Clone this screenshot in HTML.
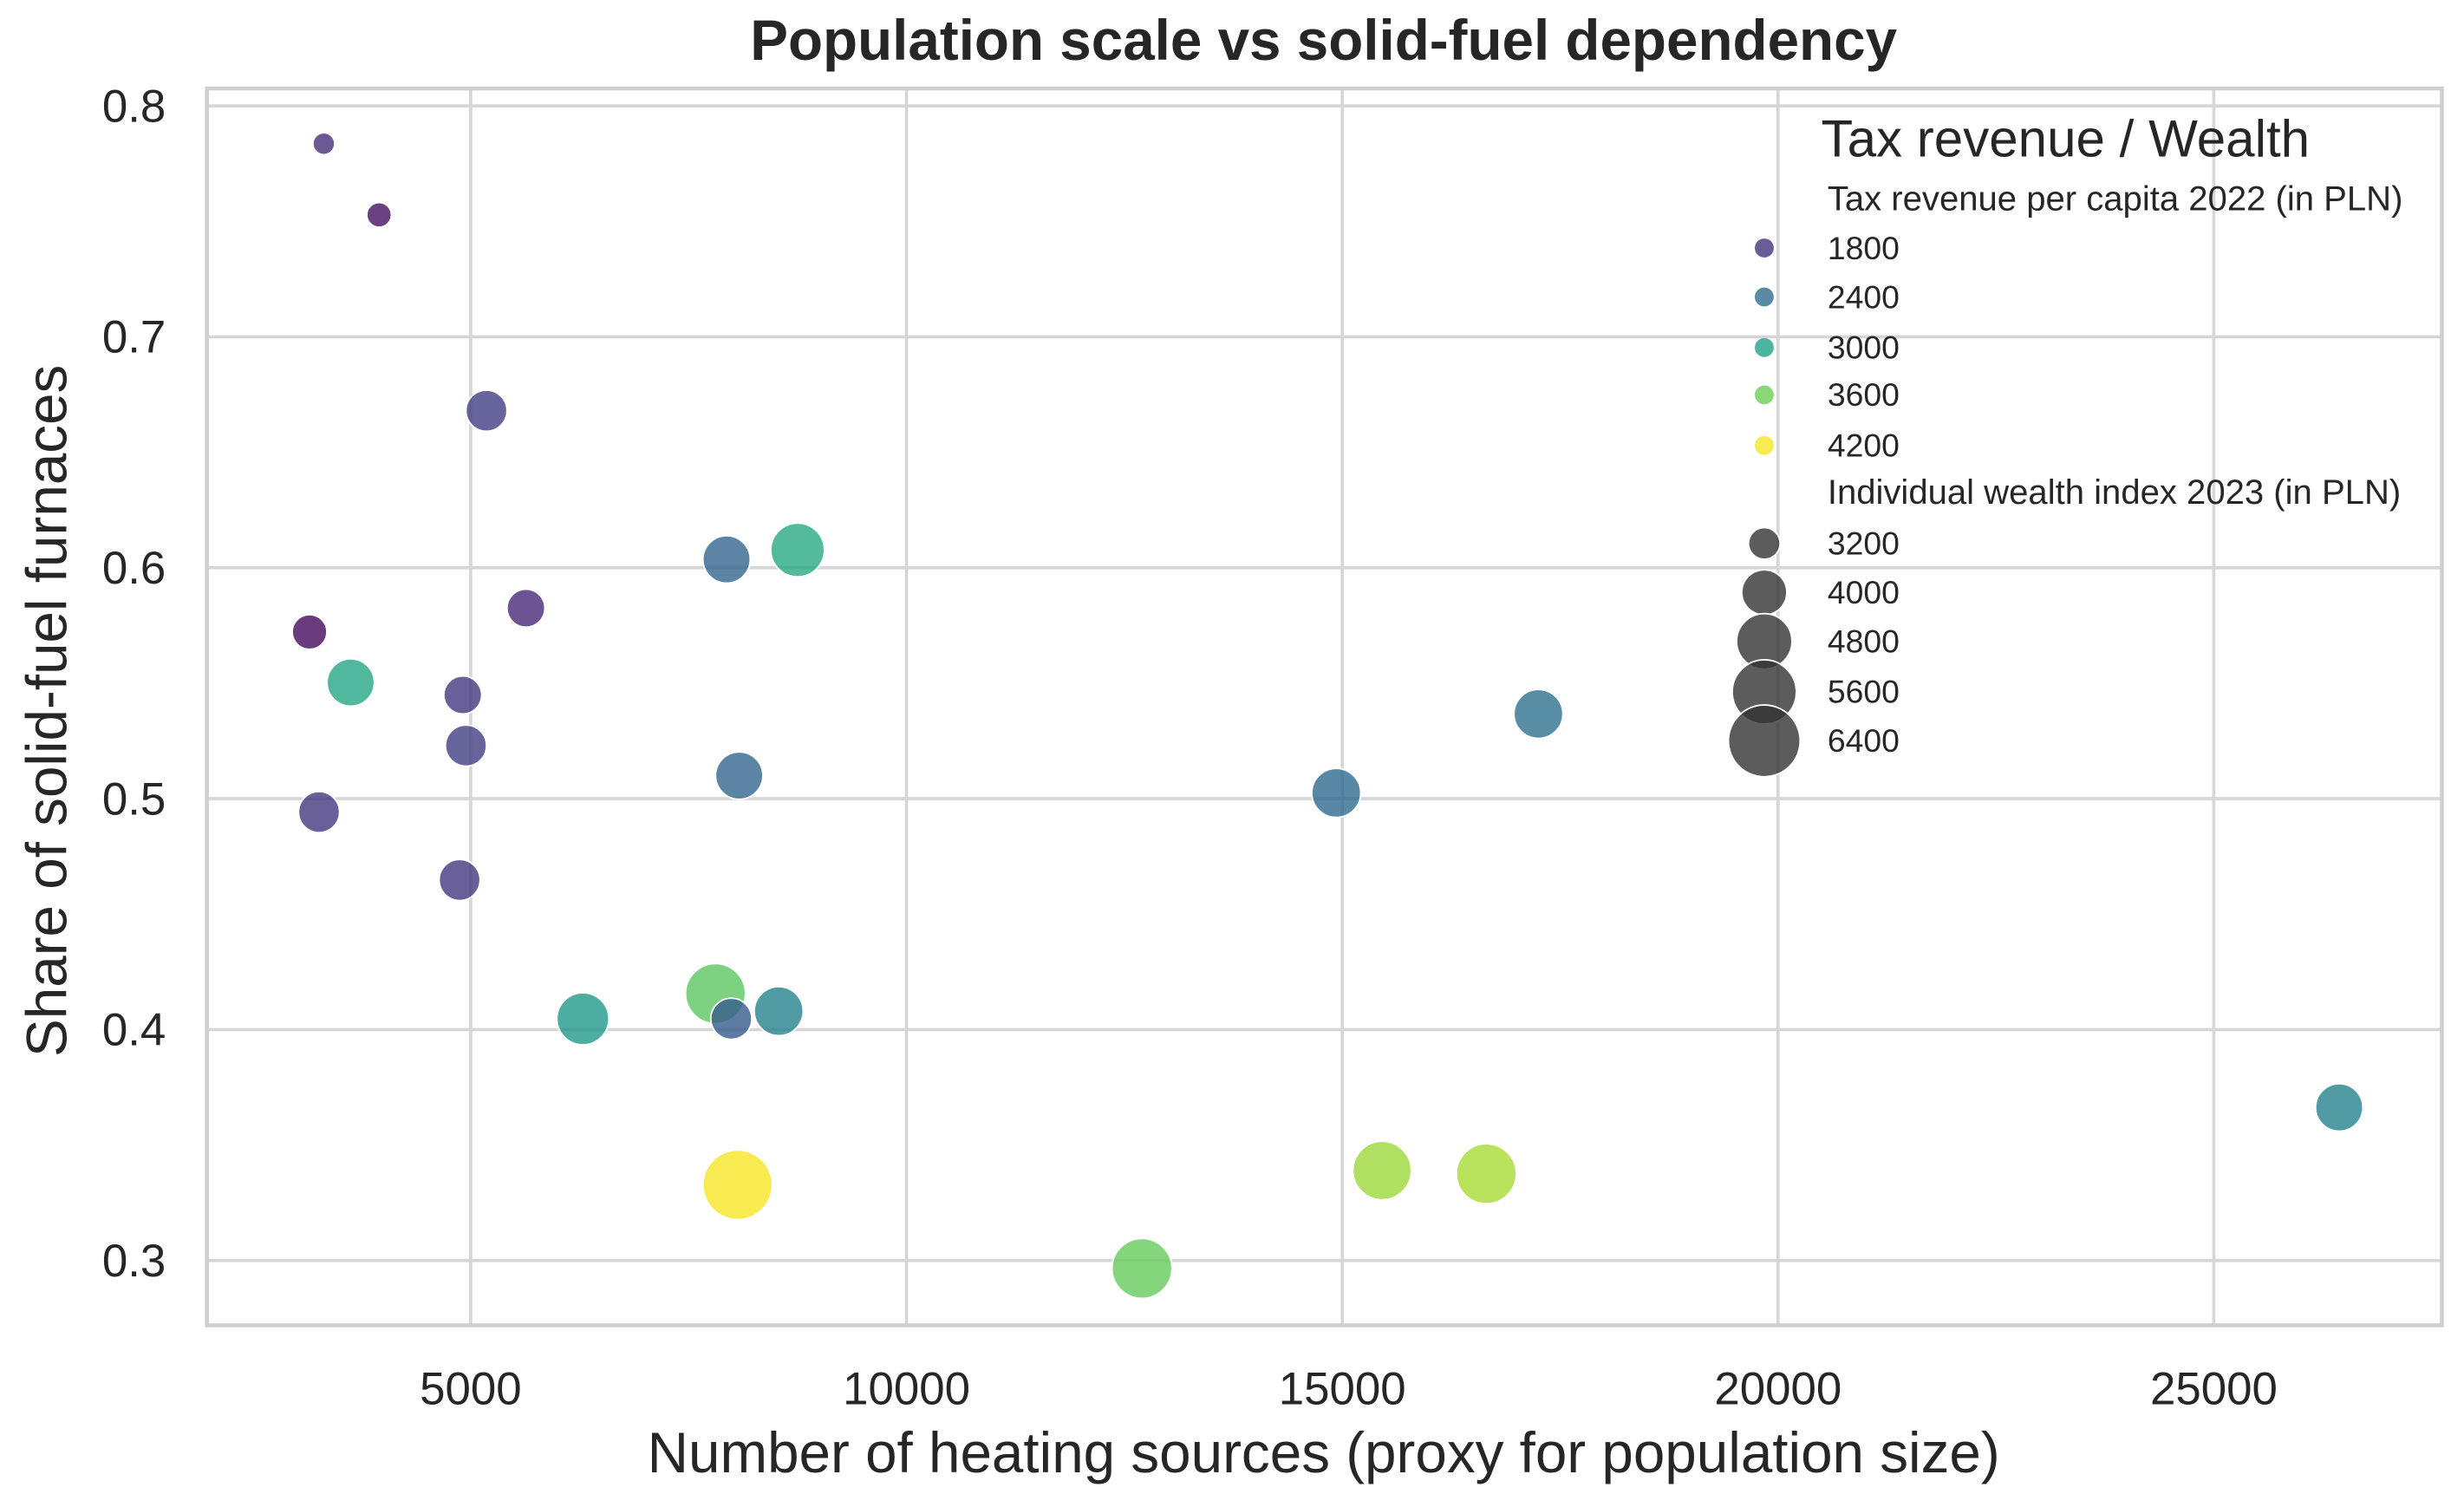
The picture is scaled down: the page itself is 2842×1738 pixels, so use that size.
<!DOCTYPE html>
<html><head><meta charset="utf-8"><style>
html,body{margin:0;padding:0;background:#fff;}
svg{display:block;font-family:"Liberation Sans",Arial,sans-serif;}
</style></head><body>
<svg id="chart" width="2842" height="1738" viewBox="0 0 1560 954" xmlns="http://www.w3.org/2000/svg">
<rect width="1560" height="954" fill="#fff"/>
<g id="grid"></g>
<rect x="131" y="56" width="1415" height="783" fill="none" stroke="#cfcfcf" stroke-width="2.5"/>
<g id="points"></g>
<g id="ticks"></g>
<text x="838" y="38" text-anchor="middle" font-size="36" font-weight="bold" fill="#262626">Population scale vs solid-fuel dependency</text>
<text x="838" y="932" text-anchor="middle" font-size="36" fill="#262626">Number of heating sources (proxy for population size)</text>
<text transform="translate(42,450) rotate(-90)" text-anchor="middle" font-size="36" fill="#262626">Share of solid-fuel furnaces</text>
<g id="legend">
<text x="1153" y="99" font-size="33" fill="#262626">Tax revenue / Wealth</text>
<text x="1157" y="133" font-size="22" fill="#262626">Tax revenue per capita 2022 (in PLN)</text>
<text x="1157" y="319" font-size="22" fill="#262626">Individual wealth index 2023 (in PLN)</text>
</g>
</svg>
<script>
const taxValues = [1750,1500,1900,2300,3100,1700,1450,3050,1850,1900,1850,2300,1850,2900,3500,2200,2650,4200,3550,2350,2450,3800,3850,2650];
const wealthValues = [2800,2900,3730,4160,4650,3540,3360,4160,3540,3730,3730,4160,3730,4520,5200,3730,4280,6150,5200,4280,4280,5060,5200,4160];
const heatingSources = [3315,3949,5181,7936,8751,5634,3151,3623,4909,4946,3260,8081,4873,6287,7809,7990,8534,8063,12702,14931,17251,15457,16653,26439];
const solidFuelShare = [0.7836,0.7528,0.668,0.6036,0.6077,0.5825,0.5722,0.5503,0.5449,0.523,0.4942,0.51,0.4648,0.4047,0.4156,0.4047,0.408,0.3328,0.2966,0.5025,0.5367,0.339,0.3376,0.3663];
const xTicks = [5000,10000,15000,20000,25000];
const yTicks = [0.3,0.4,0.5,0.6,0.7,0.8];
const yTickLabels = ["0.3","0.4","0.5","0.6","0.7","0.8"];
const hueLegend = [1800,2400,3000,3600,4200];
const sizeLegend = [3200,4000,4800,5600,6400];

const NS="http://www.w3.org/2000/svg";
function X(v){return 298+(v-5000)*0.05518;}
function Y(v){return 67+(0.8-v)*1462;}
function R(w){return Math.sqrt(Math.max(16,100+(w-3200)*0.13));}
const vir=[[68,1,84],[72,40,120],[62,73,137],[49,104,142],[38,130,142],[31,158,137],[53,183,121],[110,206,88],[181,222,43],[253,231,37]];
function C(t){const n=Math.min(1,Math.max(0,(t-1380)/(4230-1380)))*9;const i=Math.min(8,Math.floor(n)),f=n-i;const a=vir[i],b=vir[i+1];return `rgb(${a.map((c,k)=>Math.round(c+(b[k]-c)*f)).join(',')})`;}
function mk(tag,attrs,parent){const e=document.createElementNS(NS,tag);for(const k in attrs)e.setAttribute(k,attrs[k]);parent.appendChild(e);return e;}
const grid=document.getElementById('grid'),ticks=document.getElementById('ticks'),pts=document.getElementById('points'),leg=document.getElementById('legend');
xTicks.forEach(v=>{
  const l=mk('line',{x1:X(v),x2:X(v),y1:56,y2:839,stroke:'#d6d6d6','stroke-width':2},grid);
  
  
  const t=mk('text',{x:X(v),y:889,'text-anchor':'middle','font-size':29,fill:'#262626'},ticks);
  
  
  t.textContent=String(v);
});
yTicks.forEach((v,i)=>{
  const l=mk('line',{x1:131,x2:1546,y1:Y(v),y2:Y(v),stroke:'#d6d6d6','stroke-width':2},grid);
  
  
  const t=mk('text',{x:105,y:Y(v)+10,'text-anchor':'end','font-size':29,fill:'#262626'},ticks);
  
  
  t.textContent=yTickLabels[i];
});
heatingSources.forEach((_,i)=>{
  const c=mk('circle',{cx:X(heatingSources[i]),cy:Y(solidFuelShare[i]),r:R(wealthValues[i]),fill:C(taxValues[i]),'fill-opacity':0.8,stroke:'#fff','stroke-width':1},pts);
  
  
});
const hueY=[157,188,220,250,282];
hueLegend.forEach((v,i)=>{
  const c=mk('circle',{cx:1117,cy:hueY[i],r:6,fill:C(v),'fill-opacity':0.8},leg);
  
  
  const t=mk('text',{x:1157,y:hueY[i]+7,'font-size':20.5,fill:'#262626'},leg);
  
  
  t.textContent=String(v);
});
const sizeY=[344,375,406,438,469];
sizeLegend.forEach((v,i)=>{
  const c=mk('circle',{cx:1117,cy:sizeY[i],r:R(v),fill:'#333','fill-opacity':0.8,stroke:'#fff','stroke-width':1},leg);
  
  
  const t=mk('text',{x:1157,y:sizeY[i]+7,'font-size':20.5,fill:'#262626'},leg);
  
  
  t.textContent=String(v);
});
</script>
</body></html>
